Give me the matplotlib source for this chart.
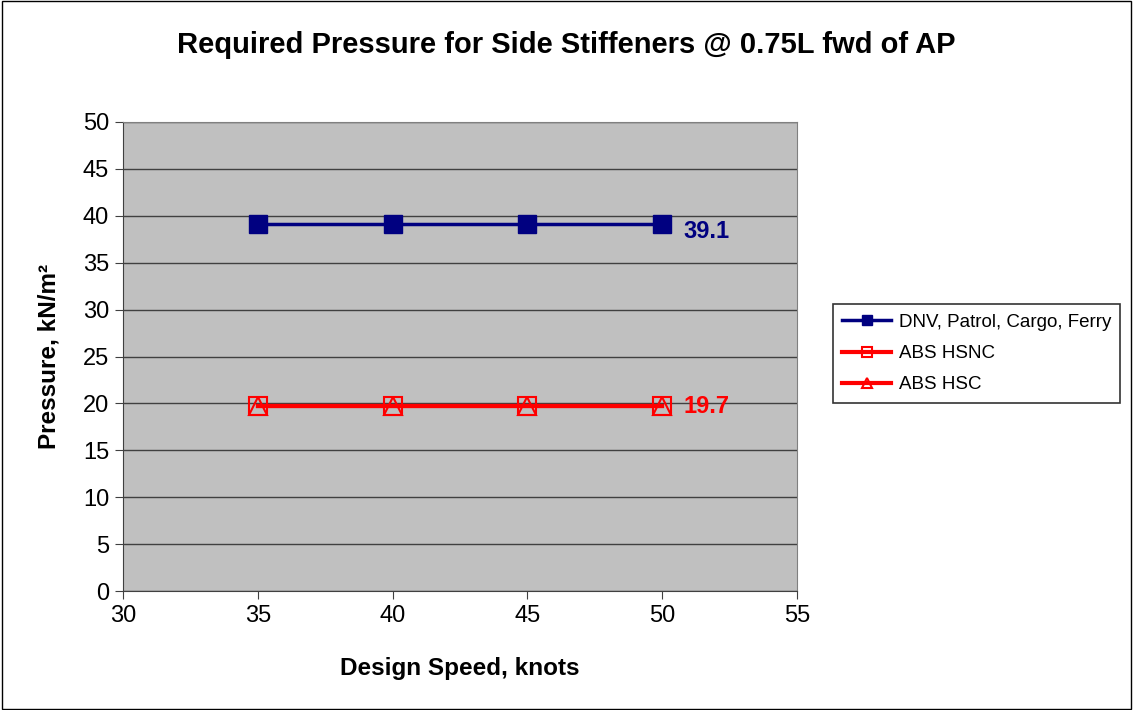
import matplotlib
matplotlib.use("Agg")
import matplotlib.pyplot as plt
from matplotlib.patches import Rectangle

plt.rcParams['font.family'] = ['Liberation Sans', 'DejaVu Sans']

speed = [35, 40, 45, 50]
dnv = [39.1, 39.1, 39.1, 39.1]
abs_hsnc = [19.7, 19.7, 19.7, 19.7]
abs_hsc = [19.7, 19.7, 19.7, 19.7]

fig = plt.figure(figsize=(11.33, 7.1), dpi=100)
ax = fig.add_axes([123 / 1133, 1 - 591 / 710, (797 - 123) / 1133, (591 - 122) / 710])
ax.set_facecolor('#C0C0C0')

ax.plot(speed, dnv, color='#000080', lw=2.5, marker='s', ms=13,
        mfc='#000080', mec='#000080', label='DNV, Patrol, Cargo, Ferry', zorder=3)
ax.plot(speed, abs_hsnc, color='#FF0000', lw=3, marker='s', ms=13,
        mfc='none', mec='#FF0000', mew=1.5, label='ABS HSNC', zorder=3)
ax.plot(speed, abs_hsc, color='#FF0000', lw=3, marker='^', ms=13,
        mfc='none', mec='#FF0000', mew=1.5, label='ABS HSC', zorder=3)

ax.annotate('39.1', (speed[-1], dnv[-1]), xytext=(15, -5), textcoords='offset points',
            color='#000080', fontsize=17, fontweight='bold', va='center')
ax.annotate('19.7', (speed[-1], abs_hsnc[-1]), xytext=(15, 0), textcoords='offset points',
            color='#FF0000', fontsize=17, fontweight='bold', va='center')

ax.set_xlim(30, 55)
ax.set_ylim(0, 50)
ax.set_xticks(range(30, 56, 5))
ax.set_yticks(range(0, 51, 5))
ax.yaxis.grid(True, color='#404040', lw=1)
ax.set_axisbelow(True)
ax.tick_params(labelsize=17, direction='out', length=6, color='#404040', pad=4)
for s in ax.spines.values():
    s.set_color('#808080')
ax.spines['left'].set_color('#404040')
ax.spines['bottom'].set_color('#404040')

ax.set_xlabel('Design Speed, knots', fontsize=17.5, fontweight='bold', labelpad=22)
ax.set_ylabel('Pressure, kN/m²', fontsize=17.5, fontweight='bold', labelpad=16)
fig.suptitle('Required Pressure for Side Stiffeners @ 0.75L fwd of AP',
             fontsize=21, fontweight='bold', y=1 - 45 / 710, va='center')

leg = ax.legend(loc='center left', bbox_to_anchor=(833 / 1133, 1 - 353.5 / 710),
                bbox_transform=fig.transFigure, frameon=True, fancybox=False,
                edgecolor='black', fontsize=13.5, handlelength=2.6, borderpad=0.5,
                labelspacing=0.75, borderaxespad=0, markerscale=0.6, handletextpad=0.4)
leg.get_frame().set_linewidth(1.2)

fig.patches.append(Rectangle((0.002, 0.002), 0.996, 0.996, transform=fig.transFigure,
                             fill=False, edgecolor='black', lw=1))

fig.savefig('out.png', dpi=100)
